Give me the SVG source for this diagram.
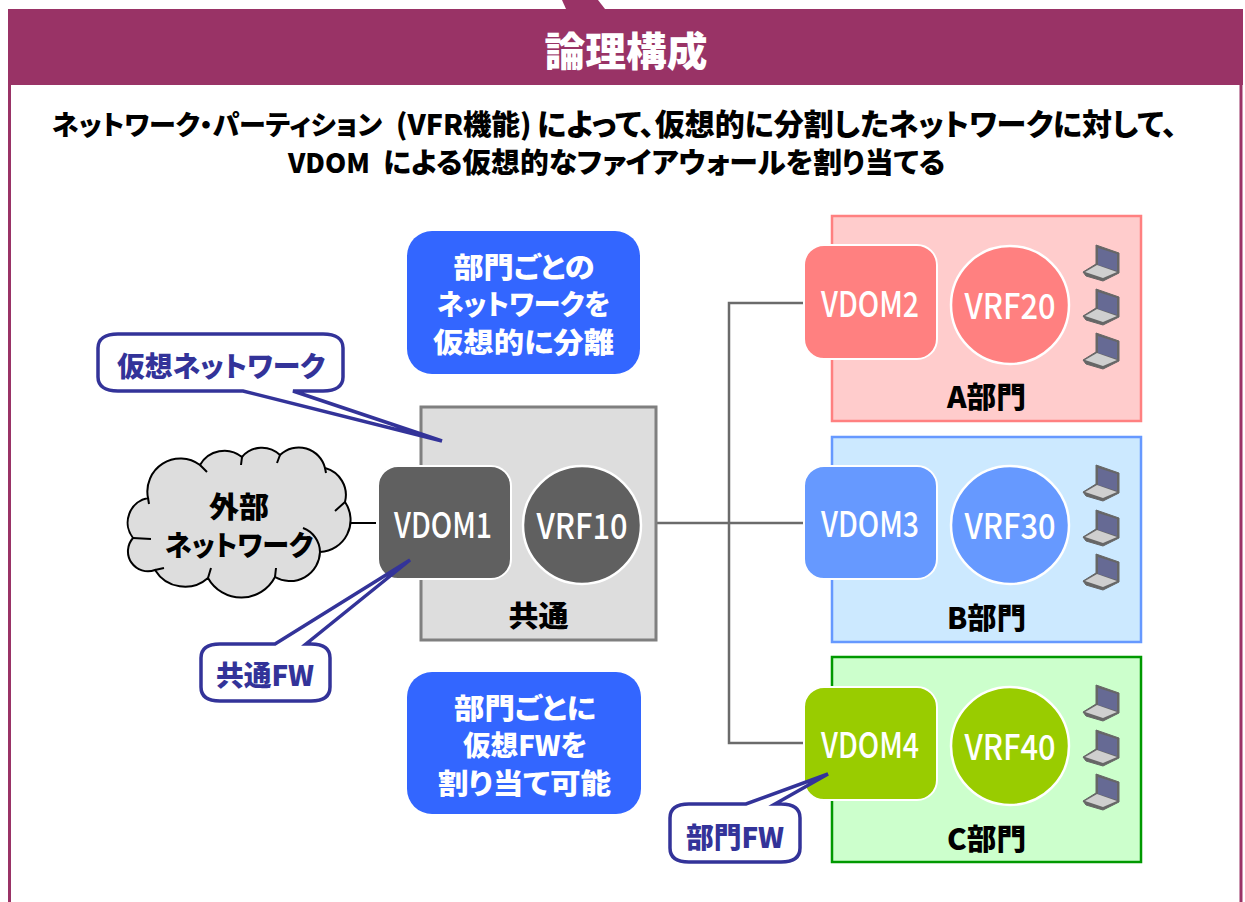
<svg xmlns="http://www.w3.org/2000/svg" width="1245" height="902" viewBox="0 0 1245 902">
<style>
text{font-family:"Noto Sans CJK JP","Liberation Sans",sans-serif;font-weight:900;text-anchor:middle;font-feature-settings:"palt"}
.k{fill:#000;font-size:29px}
.w{fill:#fff;font-size:28px}
.n{fill:#fff;font-size:35px;font-weight:500}
.c{fill:#333399;font-size:28px}
.sub{fill:#000;font-size:30px;text-anchor:start}
.conn{fill:none;stroke:#6b6b6b;stroke-width:2.5}
.call{fill:#fff;stroke:#333399;stroke-width:3.5;stroke-linejoin:miter}
.blue{fill:#3366ff}
.vrf{stroke:#fff;stroke-width:2.5}
.vd{stroke:#fff;stroke-width:2}
.tick{fill:none;stroke:#000;stroke-width:2}
</style>
<defs>
<g id="laptop">
<path d="M1 27L14 19V0L37 8V28L21 36L4 31Z" fill="#666" stroke="#666" stroke-width="1"/>
<path d="M16 3L35 9V26L16 20Z" fill="#666a94"/>
<path d="M3 27L15 20L35 27L21 33Z" fill="#cfcfcf"/>
</g>
</defs>
<rect width="1245" height="902" fill="#fff"/>
<g id="frame">
<path d="M562 0L566 9H605L598 0Z" fill="#993366"/>
<path d="M9.5 85V902M1241 85V902" fill="none" stroke="#993366" stroke-width="3"/>
<rect x="8" y="9" width="1235" height="76" fill="#993366"/>
<text x="626" y="66" font-size="40" fill="#fff" textLength="163" lengthAdjust="spacingAndGlyphs">論理構成</text>
<text class="sub" y="135"><tspan x="52" font-size="27">ネットワーク・パーティション</tspan> <tspan x="396" font-size="28.5">(VFR機能)</tspan> <tspan x="537">によって、仮想的に分割したネットワークに対して、</tspan></text>
<text class="sub" y="173"><tspan x="288" font-size="27">VDOM</tspan> <tspan x="383" font-size="28.8">による仮想的なファイアウォールを割り当てる</tspan></text>
</g>
<g id="connectors">
<path class="conn" d="M656 523H804M804 303H729V743H804"/>
<path d="M348 523H376" fill="none" stroke="#000" stroke-width="2"/>
</g>
<g id="common">
<rect x="421" y="407" width="235" height="233" fill="#dddddd" stroke="#7f7f7f" stroke-width="3"/>
<text class="k" x="538.5" y="627" textLength="60" lengthAdjust="spacingAndGlyphs">共通</text>
</g>
<g id="vdom1"><rect class="vd" x="378" y="466" width="133" height="113" rx="20" fill="#606060"/><text class="n" x="443" y="538" textLength="98" lengthAdjust="spacingAndGlyphs">VDOM1</text></g>
<g id="vrf10"><circle class="vrf" cx="582" cy="525" r="59" fill="#606060"/><text class="n" x="582" y="539" textLength="91" lengthAdjust="spacingAndGlyphs">VRF10</text></g>
<g id="cloud">
<path d="M148 498A33 33 0 0 1 200 465A28 28 0 0 1 242 457A26 26 0 0 1 280 455A27 27 0 0 1 325 468A28 28 0 0 1 345 502A32 32 0 0 1 320 552A30 30 0 0 1 275 577A38 38 0 0 1 208 578A35 35 0 0 1 155 570A20 20 0 0 1 133 538A25 25 0 0 1 148 498Z" fill="#dddddd" stroke="#000" stroke-width="2"/>
<path class="tick" d="M148 498l1 6M200 465l7 7M242 457l-1 8M280 455l-3 8M325 468l1 5M345 502l-10 9M320 552A26 26 0 0 0 303 528M275 577l1 -9M208 578l3 -10M155 570l9 -2M133 538l18 1"/>
<text x="239" y="518" font-size="29" fill="#000" textLength="60" lengthAdjust="spacingAndGlyphs">外部</text>
<text x="239" y="556" font-size="28" fill="#000" textLength="148" lengthAdjust="spacingAndGlyphs">ネットワーク</text>
</g>
<g id="info1"><rect class="blue" x="407" y="231" width="233" height="143" rx="25"/>
<text class="w" x="524" y="278" textLength="141" lengthAdjust="spacingAndGlyphs">部門ごとの</text><text class="w" x="523.5" y="315" textLength="173" lengthAdjust="spacingAndGlyphs">ネットワークを</text><text class="w" x="523.5" y="353" textLength="181" lengthAdjust="spacingAndGlyphs">仮想的に分離</text></g>
<g id="info2"><rect class="blue" x="407" y="672" width="234" height="142" rx="25"/>
<text class="w" x="525" y="719" textLength="142" lengthAdjust="spacingAndGlyphs">部門ごとに</text><text class="w" x="525" y="756" textLength="124" lengthAdjust="spacingAndGlyphs">仮想FWを</text><text class="w" x="524.5" y="794" textLength="173" lengthAdjust="spacingAndGlyphs">割り当て可能</text></g>
<g id="dept-a">
<rect x="832" y="216" width="309" height="205" fill="#ffcccc" stroke="#ff8080" stroke-width="2.5"/>
<text class="k" x="986.5" y="408" textLength="79" lengthAdjust="spacingAndGlyphs">A部門</text>
<use href="#laptop" x="1082" y="245"/><use href="#laptop" x="1082" y="289"/><use href="#laptop" x="1082" y="333"/>
</g>
<g id="vdom2"><rect class="vd" x="804" y="245" width="133" height="114" rx="20" fill="#ff8080"/><text class="n" x="870" y="317" textLength="98" lengthAdjust="spacingAndGlyphs">VDOM2</text></g>
<g id="vrf20"><circle class="vrf" cx="1010" cy="305" r="59" fill="#ff8080"/><text class="n" x="1010" y="319" textLength="91" lengthAdjust="spacingAndGlyphs">VRF20</text></g>
<g id="dept-b">
<rect x="832" y="437" width="309" height="205" fill="#cce9ff" stroke="#6699ff" stroke-width="2.5"/>
<text class="k" x="986.5" y="629" textLength="79" lengthAdjust="spacingAndGlyphs">B部門</text>
<use href="#laptop" x="1082" y="465"/><use href="#laptop" x="1082" y="510"/><use href="#laptop" x="1082" y="554"/>
</g>
<g id="vdom3"><rect class="vd" x="804" y="466" width="133" height="113" rx="20" fill="#6699ff"/><text class="n" x="870" y="537" textLength="98" lengthAdjust="spacingAndGlyphs">VDOM3</text></g>
<g id="vrf30"><circle class="vrf" cx="1010" cy="525" r="59" fill="#6699ff"/><text class="n" x="1010" y="539" textLength="91" lengthAdjust="spacingAndGlyphs">VRF30</text></g>
<g id="dept-c">
<rect x="832" y="657" width="309" height="205" fill="#ccffcc" stroke="#009900" stroke-width="2.5"/>
<text class="k" x="986.5" y="850" textLength="79" lengthAdjust="spacingAndGlyphs">C部門</text>
<use href="#laptop" x="1082" y="685"/><use href="#laptop" x="1082" y="730"/><use href="#laptop" x="1082" y="774"/>
</g>
<g id="vdom4"><rect class="vd" x="804" y="687" width="133" height="113" rx="20" fill="#99cc00"/><text class="n" x="870" y="758" textLength="98" lengthAdjust="spacingAndGlyphs">VDOM4</text></g>
<g id="vrf40"><circle class="vrf" cx="1010" cy="746" r="59" fill="#99cc00"/><text class="n" x="1010" y="760" textLength="91" lengthAdjust="spacingAndGlyphs">VRF40</text></g>
<g id="callout-net">
<path class="call" d="M118 334H323C336 334 343 339 343 348V377C343 386 336 391 323 391H293L442 441L243 391H118C105 391 98 386 98 377V348C98 339 105 334 118 334Z"/>
<text class="c" x="221" y="377" textLength="208" lengthAdjust="spacingAndGlyphs">仮想ネットワーク</text>
</g>
<g id="callout-common">
<path class="call" d="M220 644H275L410 560L306 644H311C324 644 330 649 330 658V687C330 696 324 701 311 701H220C207 701 201 696 201 687V658C201 649 207 644 220 644Z"/>
<text class="c" x="265" y="686" textLength="98" lengthAdjust="spacingAndGlyphs">共通FW</text>
</g>
<g id="callout-dept">
<path class="call" d="M689 804H746L828 774L775 804H781C794 804 800 809 800 818V848C800 857 794 862 781 862H689C676 862 670 857 670 848V818C670 809 676 804 689 804Z"/>
<text class="c" x="735" y="848" textLength="98" lengthAdjust="spacingAndGlyphs">部門FW</text>
</g>
</svg>
